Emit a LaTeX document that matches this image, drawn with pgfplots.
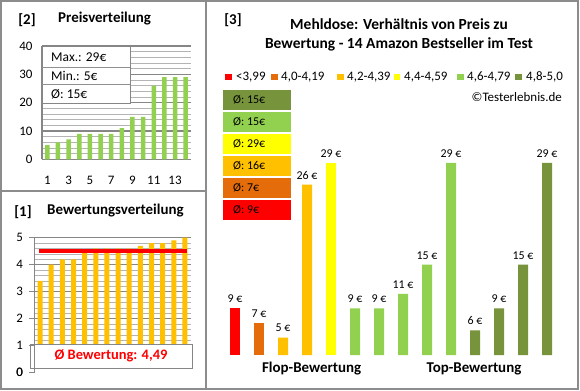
\documentclass[border=0pt]{standalone}
\usepackage{fontspec}
\setmainfont{Carlito}
\usepackage{pgfplots}
\pgfplotsset{compat=1.18}
\definecolor{lgreen}{HTML}{92D050}
\definecolor{dgreen}{HTML}{77933C}
\definecolor{gold}{HTML}{FFC000}
\definecolor{dorange}{HTML}{E46C0A}
\definecolor{yel}{HTML}{FFFF00}
\definecolor{rd}{HTML}{FF0000}
\definecolor{majgray}{HTML}{868686}
\definecolor{mingray}{HTML}{B4B4B4}
\definecolor{framegray}{HTML}{8C8C8C}
\newcommand{\fs}[1]{\fontsize{#1}{#1}\selectfont}
\begin{document}
\begin{tikzpicture}
\begin{scope}[x=1bp,y=1bp]
\path[use as bounding box] (0,0) rectangle (580,390);
\fill[white] (0,0) rectangle (580,390);
\end{scope}

% ---------- Panel [2] Preisverteilung ----------
\begin{axis}[at={(42bp,230.7bp)}, anchor=south west, scale only axis,
  width=149bp, height=113.3bp,
  xmin=0.5, xmax=14.5, ymin=0, ymax=40,
  ytick={0,10,20,30,40}, minor y tick num=4, xtick={1,3,...,13},
  ymajorgrids, yminorgrids,
  major grid style={draw=majgray, line width=1.1bp},
  minor grid style={draw=mingray, line width=0.7bp},
  axis lines*=left,
  axis line style={draw=majgray, line width=1.1bp},
  tick style={draw=none},
  /pgf/number format/assume math mode=true,
  ticklabel style={font=\fs{13}},
  xticklabel style={yshift=-13bp},
  yticklabel style={xshift=-6bp},
]
\addplot[ybar, bar width=4.5bp, fill=lgreen, draw=none] coordinates {
 (1,5) (2,6) (3,7) (4,9) (5,9) (6,9) (7,9) (8,11) (9,15) (10,15) (11,26) (12,29) (13,29) (14,29)};
\end{axis}

% ---------- Panel [1] Bewertungsverteilung ----------
\begin{axis}[at={(34.5bp,17.0bp)}, anchor=south west, scale only axis,
  width=156bp, height=135.3bp,
  xmin=0.5, xmax=14.5, ymin=-0.01, ymax=5,
  ytick={0,1,2,3,4,5}, minor y tick num=4, xtick=\empty,
  extra y ticks={0}, extra y tick labels={0},
  ymajorgrids, yminorgrids,
  major grid style={draw=majgray, line width=1.1bp},
  minor grid style={draw=mingray, line width=0.7bp},
  axis lines*=left,
  axis line style={draw=majgray, line width=1.1bp},
  x axis line style={draw=none},
  ytick style={draw=majgray, line width=1.1bp}, tick align=outside, major tick length=5bp,
  minor tick length=0pt,
  /pgf/number format/assume math mode=true,
  ticklabel style={font=\fs{13}},
  yticklabel style={xshift=-3bp},
]
\addplot[ybar, bar width=5bp, fill=gold, draw=none] coordinates {
 (1,3.4) (2,4.0) (3,4.2) (4,4.2) (5,4.5) (6,4.6) (7,4.6) (8,4.6) (9,4.6) (10,4.7) (11,4.8) (12,4.8) (13,4.9) (14,5.0)};
\addplot[rd, line width=4bp] coordinates {(0.9,4.49) (14.2,4.49)};
\end{axis}

% ---------- Panel [3] ----------
\begin{axis}[at={(223bp,35bp)}, anchor=south west, scale only axis,
  width=336bp, height=214bp,
  xmin=0.5, xmax=14.5, ymin=2.6, ymax=32,
  hide axis,
  every axis plot/.append style={ybar, bar width=10bp, bar shift=0pt, draw=none},
  /pgf/number format/assume math mode=true,
  nodes near coords={\pgfmathprintnumber{\pgfplotspointmeta}~€},
  every node near coord/.append style={font=\fs{12}, text=black, yshift=2bp},
]
\addplot[fill=rd] coordinates {(1,9)};
\addplot[fill=dorange] coordinates {(2,7)};
\addplot[fill=gold] coordinates {(3,5) (4,26)};
\addplot[fill=yel] coordinates {(5,29)};
\addplot[fill=lgreen] coordinates {(6,9) (7,9) (8,11) (9,15) (10,29)};
\addplot[fill=dgreen] coordinates {(11,6) (12,9) (13,15) (14,29)};
\end{axis}

\begin{scope}[x=1bp,y=1bp]
% panel 2 texts
\draw[majgray, line width=0.9bp, fill=white] (42,344) rectangle (130,287);
\draw[mingray!80!black, line width=0.8bp] (42,323) -- (130,323) (42,306) -- (130,306);
\node[anchor=west, font=\fs{13.5}, inner sep=0] at (51,333) {Max.: 29€};
\node[anchor=west, font=\fs{13.5}, inner sep=0] at (51,314) {Min.: 5€};
\node[anchor=west, font=\fs{13.5}, inner sep=0] at (51,296) {Ø: 15€};
\node[font=\bfseries\fs{15}] at (27,370) {[2]};
\node[anchor=west, font=\bfseries\fs{15}, inner sep=0] at (58,371) {Preisverteilung};
% panel 1 texts
\fill[white] (35.2,15.5) rectangle (192,46);
\draw[majgray, line width=0.9bp] (30,46) rectangle (192,22);
\node[font=\bfseries\fs{14.5}, text=rd] at (111,34) {Ø Bewertung: 4,49};
\node[font=\bfseries\fs{15}] at (23,178) {[1]};
\node[anchor=west, font=\bfseries\fs{15}, inner sep=0] at (47,179) {Bewertungsverteilung};
% panel 3 texts
\node[font=\bfseries\fs{15}] at (233,370) {[3]};
\node[font=\bfseries\fs{15.5}, align=center] at (399,355) {Mehldose: Verhältnis von Preis zu\\[4bp]Bewertung - 14 Amazon Bestseller im Test};
\foreach \c/\x/\t/\tx in {rd/225/{<3,99}/236, dorange/271/{4,0-4,19}/281, gold/337/{4,2-4,39}/347, yel/393.5/{4,4-4,59}/404, lgreen/457/{4,6-4,79}/467, dgreen/515/{4,8-5,0}/526}{
  \fill[\c] (\x,310) rectangle ++(6.5,6.5);
  \node[anchor=west, font=\fs{13}, inner sep=0] at (\tx,313) {\t};
}
\node[anchor=east, font=\fs{13}, inner sep=0] at (562,293) {©Testerlebnis.de};
\foreach \c/\top/\t in {dgreen/300/15, lgreen/278/15, yel/256/29, gold/234/16, dorange/212/7, rd/190/9}{
  \fill[\c] (223,\top) rectangle (291,\top-20);
  \node[anchor=west, font=\fs{12}, inner sep=0] at (233,\top-10) {Ø: \t€};
}
\node[font=\bfseries\fs{15}] at (311.7,21) {Flop-Bewertung};
\node[font=\bfseries\fs{15}] at (474,21) {Top-Bewertung};
% frame
\draw[framegray, line width=1.3bp] (1,1) rectangle (578,389);
\draw[framegray, line width=1.3bp] (206,1) -- (206,389);
\draw[framegray, line width=1.3bp] (1,199) -- (206,199);
\end{scope}
\end{tikzpicture}
\end{document}
